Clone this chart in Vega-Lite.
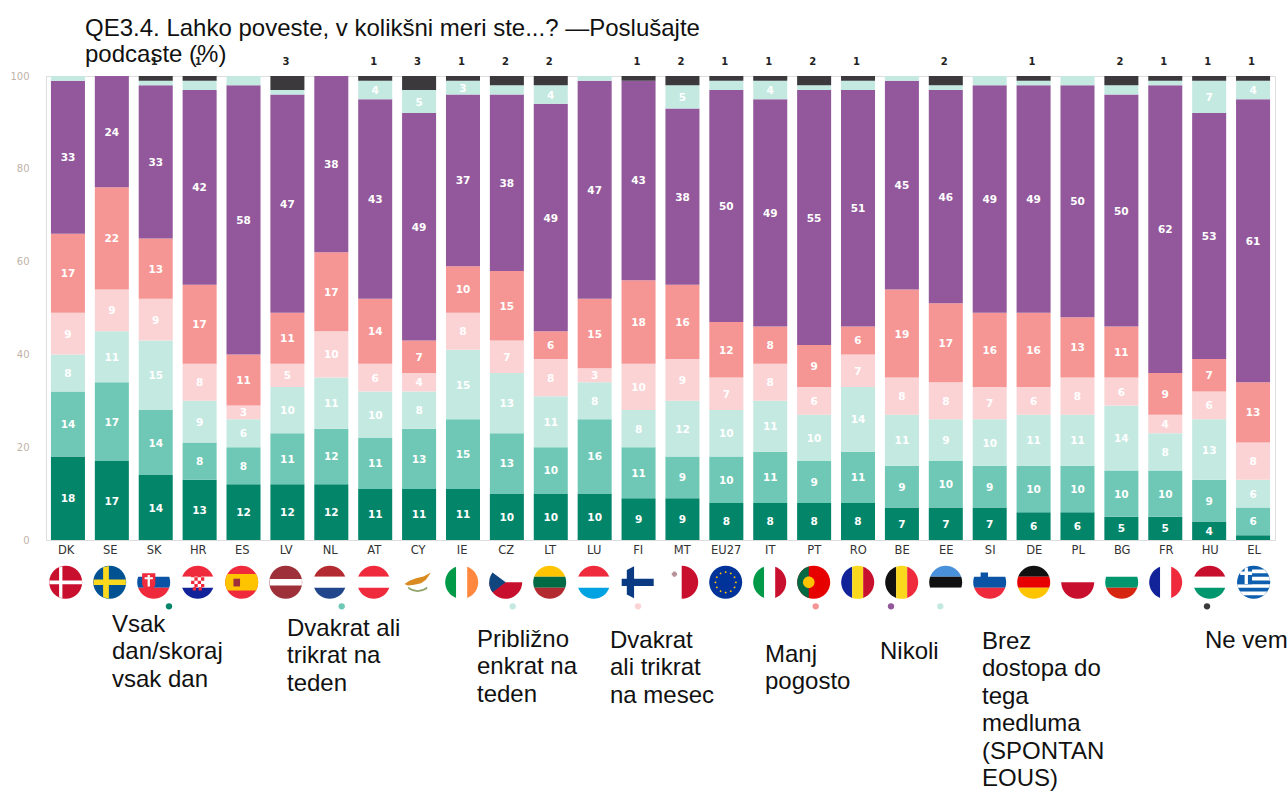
{"$schema":"https://vega.github.io/schema/vega-lite/v6.json","autosize":"none","padding":{"left":46,"top":76,"right":13,"bottom":251},"width":1229,"height":464,"background":"white","title":{"text":["QE3.4. Lahko poveste, v kolikšni meri ste...? —Poslušajte","podcaste (%)"],"anchor":"start","frame":"group","dx":39,"offset":-10,"font":"Liberation Sans","fontSize":24,"fontWeight":"normal","lineHeight":26,"color":"#111111"},"datasets":{"bars":[{"c":"DK","s":1,"v":18},{"c":"DK","s":2,"v":14},{"c":"DK","s":3,"v":8},{"c":"DK","s":4,"v":9},{"c":"DK","s":5,"v":17},{"c":"DK","s":6,"v":33},{"c":"DK","s":7,"v":1},{"c":"DK","s":8,"v":0},{"c":"SE","s":1,"v":17},{"c":"SE","s":2,"v":17},{"c":"SE","s":3,"v":11},{"c":"SE","s":4,"v":9},{"c":"SE","s":5,"v":22},{"c":"SE","s":6,"v":24},{"c":"SE","s":7,"v":0},{"c":"SE","s":8,"v":0},{"c":"SK","s":1,"v":14},{"c":"SK","s":2,"v":14},{"c":"SK","s":3,"v":15},{"c":"SK","s":4,"v":9},{"c":"SK","s":5,"v":13},{"c":"SK","s":6,"v":33},{"c":"SK","s":7,"v":1},{"c":"SK","s":8,"v":1},{"c":"HR","s":1,"v":13},{"c":"HR","s":2,"v":8},{"c":"HR","s":3,"v":9},{"c":"HR","s":4,"v":8},{"c":"HR","s":5,"v":17},{"c":"HR","s":6,"v":42},{"c":"HR","s":7,"v":2},{"c":"HR","s":8,"v":1},{"c":"ES","s":1,"v":12},{"c":"ES","s":2,"v":8},{"c":"ES","s":3,"v":6},{"c":"ES","s":4,"v":3},{"c":"ES","s":5,"v":11},{"c":"ES","s":6,"v":58},{"c":"ES","s":7,"v":2},{"c":"ES","s":8,"v":0},{"c":"LV","s":1,"v":12},{"c":"LV","s":2,"v":11},{"c":"LV","s":3,"v":10},{"c":"LV","s":4,"v":5},{"c":"LV","s":5,"v":11},{"c":"LV","s":6,"v":47},{"c":"LV","s":7,"v":1},{"c":"LV","s":8,"v":3},{"c":"NL","s":1,"v":12},{"c":"NL","s":2,"v":12},{"c":"NL","s":3,"v":11},{"c":"NL","s":4,"v":10},{"c":"NL","s":5,"v":17},{"c":"NL","s":6,"v":38},{"c":"NL","s":7,"v":0},{"c":"NL","s":8,"v":0},{"c":"AT","s":1,"v":11},{"c":"AT","s":2,"v":11},{"c":"AT","s":3,"v":10},{"c":"AT","s":4,"v":6},{"c":"AT","s":5,"v":14},{"c":"AT","s":6,"v":43},{"c":"AT","s":7,"v":4},{"c":"AT","s":8,"v":1},{"c":"CY","s":1,"v":11},{"c":"CY","s":2,"v":13},{"c":"CY","s":3,"v":8},{"c":"CY","s":4,"v":4},{"c":"CY","s":5,"v":7},{"c":"CY","s":6,"v":49},{"c":"CY","s":7,"v":5},{"c":"CY","s":8,"v":3},{"c":"IE","s":1,"v":11},{"c":"IE","s":2,"v":15},{"c":"IE","s":3,"v":15},{"c":"IE","s":4,"v":8},{"c":"IE","s":5,"v":10},{"c":"IE","s":6,"v":37},{"c":"IE","s":7,"v":3},{"c":"IE","s":8,"v":1},{"c":"CZ","s":1,"v":10},{"c":"CZ","s":2,"v":13},{"c":"CZ","s":3,"v":13},{"c":"CZ","s":4,"v":7},{"c":"CZ","s":5,"v":15},{"c":"CZ","s":6,"v":38},{"c":"CZ","s":7,"v":2},{"c":"CZ","s":8,"v":2},{"c":"LT","s":1,"v":10},{"c":"LT","s":2,"v":10},{"c":"LT","s":3,"v":11},{"c":"LT","s":4,"v":8},{"c":"LT","s":5,"v":6},{"c":"LT","s":6,"v":49},{"c":"LT","s":7,"v":4},{"c":"LT","s":8,"v":2},{"c":"LU","s":1,"v":10},{"c":"LU","s":2,"v":16},{"c":"LU","s":3,"v":8},{"c":"LU","s":4,"v":3},{"c":"LU","s":5,"v":15},{"c":"LU","s":6,"v":47},{"c":"LU","s":7,"v":1},{"c":"LU","s":8,"v":0},{"c":"FI","s":1,"v":9},{"c":"FI","s":2,"v":11},{"c":"FI","s":3,"v":8},{"c":"FI","s":4,"v":10},{"c":"FI","s":5,"v":18},{"c":"FI","s":6,"v":43},{"c":"FI","s":7,"v":0},{"c":"FI","s":8,"v":1},{"c":"MT","s":1,"v":9},{"c":"MT","s":2,"v":9},{"c":"MT","s":3,"v":12},{"c":"MT","s":4,"v":9},{"c":"MT","s":5,"v":16},{"c":"MT","s":6,"v":38},{"c":"MT","s":7,"v":5},{"c":"MT","s":8,"v":2},{"c":"EU27","s":1,"v":8},{"c":"EU27","s":2,"v":10},{"c":"EU27","s":3,"v":10},{"c":"EU27","s":4,"v":7},{"c":"EU27","s":5,"v":12},{"c":"EU27","s":6,"v":50},{"c":"EU27","s":7,"v":2},{"c":"EU27","s":8,"v":1},{"c":"IT","s":1,"v":8},{"c":"IT","s":2,"v":11},{"c":"IT","s":3,"v":11},{"c":"IT","s":4,"v":8},{"c":"IT","s":5,"v":8},{"c":"IT","s":6,"v":49},{"c":"IT","s":7,"v":4},{"c":"IT","s":8,"v":1},{"c":"PT","s":1,"v":8},{"c":"PT","s":2,"v":9},{"c":"PT","s":3,"v":10},{"c":"PT","s":4,"v":6},{"c":"PT","s":5,"v":9},{"c":"PT","s":6,"v":55},{"c":"PT","s":7,"v":1},{"c":"PT","s":8,"v":2},{"c":"RO","s":1,"v":8},{"c":"RO","s":2,"v":11},{"c":"RO","s":3,"v":14},{"c":"RO","s":4,"v":7},{"c":"RO","s":5,"v":6},{"c":"RO","s":6,"v":51},{"c":"RO","s":7,"v":2},{"c":"RO","s":8,"v":1},{"c":"BE","s":1,"v":7},{"c":"BE","s":2,"v":9},{"c":"BE","s":3,"v":11},{"c":"BE","s":4,"v":8},{"c":"BE","s":5,"v":19},{"c":"BE","s":6,"v":45},{"c":"BE","s":7,"v":1},{"c":"BE","s":8,"v":0},{"c":"EE","s":1,"v":7},{"c":"EE","s":2,"v":10},{"c":"EE","s":3,"v":9},{"c":"EE","s":4,"v":8},{"c":"EE","s":5,"v":17},{"c":"EE","s":6,"v":46},{"c":"EE","s":7,"v":1},{"c":"EE","s":8,"v":2},{"c":"SI","s":1,"v":7},{"c":"SI","s":2,"v":9},{"c":"SI","s":3,"v":10},{"c":"SI","s":4,"v":7},{"c":"SI","s":5,"v":16},{"c":"SI","s":6,"v":49},{"c":"SI","s":7,"v":2},{"c":"SI","s":8,"v":0},{"c":"DE","s":1,"v":6},{"c":"DE","s":2,"v":10},{"c":"DE","s":3,"v":11},{"c":"DE","s":4,"v":6},{"c":"DE","s":5,"v":16},{"c":"DE","s":6,"v":49},{"c":"DE","s":7,"v":1},{"c":"DE","s":8,"v":1},{"c":"PL","s":1,"v":6},{"c":"PL","s":2,"v":10},{"c":"PL","s":3,"v":11},{"c":"PL","s":4,"v":8},{"c":"PL","s":5,"v":13},{"c":"PL","s":6,"v":50},{"c":"PL","s":7,"v":2},{"c":"PL","s":8,"v":0},{"c":"BG","s":1,"v":5},{"c":"BG","s":2,"v":10},{"c":"BG","s":3,"v":14},{"c":"BG","s":4,"v":6},{"c":"BG","s":5,"v":11},{"c":"BG","s":6,"v":50},{"c":"BG","s":7,"v":2},{"c":"BG","s":8,"v":2},{"c":"FR","s":1,"v":5},{"c":"FR","s":2,"v":10},{"c":"FR","s":3,"v":8},{"c":"FR","s":4,"v":4},{"c":"FR","s":5,"v":9},{"c":"FR","s":6,"v":62},{"c":"FR","s":7,"v":1},{"c":"FR","s":8,"v":1},{"c":"HU","s":1,"v":4},{"c":"HU","s":2,"v":9},{"c":"HU","s":3,"v":13},{"c":"HU","s":4,"v":6},{"c":"HU","s":5,"v":7},{"c":"HU","s":6,"v":53},{"c":"HU","s":7,"v":7},{"c":"HU","s":8,"v":1},{"c":"EL","s":1,"v":1},{"c":"EL","s":2,"v":6},{"c":"EL","s":3,"v":6},{"c":"EL","s":4,"v":8},{"c":"EL","s":5,"v":13},{"c":"EL","s":6,"v":61},{"c":"EL","s":7,"v":4},{"c":"EL","s":8,"v":1}],"legend":[{"s":1,"label":"Vsak\ndan/skoraj\nvsak dan"},{"s":2,"label":"Dvakrat ali\ntrikrat na\nteden"},{"s":3,"label":"Približno\nenkrat na\nteden"},{"s":4,"label":"Dvakrat\nali trikrat\nna mesec"},{"s":5,"label":"Manj\npogosto"},{"s":6,"label":"Nikoli"},{"s":7,"label":"Brez\ndostopa do\ntega\nmedluma\n(SPONTAN\nEOUS)"},{"s":8,"label":"Ne vem"}],"flags":[{"c":"DK","p":"disc","t":"crimson"},{"c":"DK","p":"crossH","t":"white"},{"c":"DK","p":"crossV","t":"white"},{"c":"SE","p":"disc","t":"seblue"},{"c":"SE","p":"crossHwide","t":"yellow"},{"c":"SE","p":"crossVwide","t":"yellow"},{"c":"SK","p":"top","t":"white"},{"c":"SK","p":"mid","t":"blue"},{"c":"SK","p":"bot","t":"red"},{"c":"SK","p":"shield","t":"red"},{"c":"SK","p":"shieldCross","t":"white"},{"c":"HR","p":"top","t":"red"},{"c":"HR","p":"mid","t":"white"},{"c":"HR","p":"bot","t":"navy"},{"c":"HR","p":"checker","t":"red"},{"c":"ES","p":"disc","t":"red"},{"c":"ES","p":"wideBand","t":"gold"},{"c":"ES","p":"emblem","t":"maroon"},{"c":"LV","p":"disc","t":"maroon"},{"c":"LV","p":"thinBand","t":"white"},{"c":"NL","p":"top","t":"brick"},{"c":"NL","p":"mid","t":"white"},{"c":"NL","p":"bot","t":"nlblue"},{"c":"AT","p":"top","t":"red"},{"c":"AT","p":"mid","t":"white"},{"c":"AT","p":"bot","t":"red"},{"c":"CY","p":"island","t":"copper"},{"c":"CY","p":"olive","t":"olive"},{"c":"IE","p":"left","t":"green"},{"c":"IE","p":"centre","t":"white"},{"c":"IE","p":"right","t":"orange"},{"c":"CZ","p":"lower","t":"crimson"},{"c":"CZ","p":"triangle","t":"czblue"},{"c":"LT","p":"top","t":"gold"},{"c":"LT","p":"mid","t":"darkgreen"},{"c":"LT","p":"bot","t":"brick"},{"c":"LU","p":"top","t":"red"},{"c":"LU","p":"mid","t":"white"},{"c":"LU","p":"bot","t":"sky"},{"c":"FI","p":"nordicH","t":"fiblue"},{"c":"FI","p":"nordicV","t":"fiblue"},{"c":"MT","p":"halfRight","t":"crimson"},{"c":"MT","p":"mtCross","t":"grey"},{"c":"EU27","p":"disc","t":"eublue"},{"c":"EU27","p":"stars","t":"gold"},{"c":"IT","p":"left","t":"green"},{"c":"IT","p":"centre","t":"white"},{"c":"IT","p":"right","t":"crimson"},{"c":"PT","p":"disc","t":"scarlet"},{"c":"PT","p":"ptLeft","t":"darkgreen"},{"c":"PT","p":"ptEmblem","t":"gold"},{"c":"RO","p":"left","t":"navy"},{"c":"RO","p":"centre","t":"yellow"},{"c":"RO","p":"right","t":"crimson"},{"c":"BE","p":"left","t":"black"},{"c":"BE","p":"centre","t":"yellow"},{"c":"BE","p":"right","t":"red"},{"c":"EE","p":"top","t":"eeblue"},{"c":"EE","p":"mid","t":"black"},{"c":"EE","p":"bot","t":"white"},{"c":"SI","p":"top","t":"white"},{"c":"SI","p":"mid","t":"blue"},{"c":"SI","p":"bot","t":"red"},{"c":"SI","p":"siEmblem","t":"blue"},{"c":"DE","p":"top","t":"black"},{"c":"DE","p":"mid","t":"scarlet"},{"c":"DE","p":"bot","t":"gold"},{"c":"PL","p":"lower","t":"crimson"},{"c":"BG","p":"top","t":"white"},{"c":"BG","p":"mid","t":"bggreen"},{"c":"BG","p":"bot","t":"bgred"},{"c":"FR","p":"left","t":"navy"},{"c":"FR","p":"centre","t":"white"},{"c":"FR","p":"right","t":"red"},{"c":"HU","p":"top","t":"crimson"},{"c":"HU","p":"mid","t":"white"},{"c":"HU","p":"bot","t":"bggreen"},{"c":"EL","p":"disc","t":"elblue"},{"c":"EL","p":"elStripes","t":"white"},{"c":"EL","p":"elCanton","t":"elblue"},{"c":"EL","p":"elCross","t":"white"}]},"resolve":{"scale":{"x":"independent","y":"independent","color":"independent","shape":"independent"}},"layer":[{"data":{"name":"bars"},"mark":{"type":"bar"},"encoding":{"x":{"field":"c","type":"nominal","sort":null,"scale":{"paddingInner":0.225,"paddingOuter":0.1125},"axis":null},"y":{"field":"v","type":"quantitative","stack":"zero","scale":{"domain":[0,100],"nice":false},"axis":{"values":[0,20,40,60,80,100],"domain":false,"ticks":false,"grid":false,"title":null,"labelPadding":17,"labelColor":"#BFB3A8","labelFont":"DejaVu Sans","labelFontSize":10}},"order":{"field":"s","type":"quantitative"},"color":{"field":"s","type":"ordinal","scale":{"domain":[1,2,3,4,5,6,7,8],"range":["#03856A","#6EC8B5","#C4E9E1","#FBD3D5","#F69694","#93589B","#C4E9E1","#3B393C"]},"legend":null}}},{"data":{"name":"bars"},"mark":{"type":"text","font":"DejaVu Sans","fontWeight":"bold","fontSize":10.5,"color":"white","baseline":"middle","dy":1},"encoding":{"x":{"field":"c","type":"nominal","sort":null,"scale":{"paddingInner":0.225,"paddingOuter":0.1125},"axis":null},"y":{"field":"v","type":"quantitative","stack":"zero","bandPosition":0.5,"scale":{"domain":[0,100],"nice":false},"axis":null},"order":{"field":"s","type":"quantitative"},"detail":{"field":"s","type":"ordinal"},"text":{"condition":{"test":"datum.v>=3 && datum.s<8","field":"v","type":"quantitative"},"value":""}}},{"data":{"name":"bars"},"transform":[{"filter":"datum.s==8 && datum.v>=1"}],"mark":{"type":"text","font":"DejaVu Sans","fontWeight":"bold","fontSize":10,"color":"#222222","baseline":"middle","dx":-1.5},"encoding":{"x":{"field":"c","type":"nominal","sort":null,"scale":{"paddingInner":0.225,"paddingOuter":0.1125,"domain":["DK","SE","SK","HR","ES","LV","NL","AT","CY","IE","CZ","LT","LU","FI","MT","EU27","IT","PT","RO","BE","EE","SI","DE","PL","BG","FR","HU","EL"]},"axis":null},"y":{"datum":103.1,"type":"quantitative","scale":{"domain":[0,100],"nice":false},"axis":null},"text":{"field":"v","type":"quantitative"}}},{"data":{"name":"flags"},"mark":{"type":"point","filled":true,"opacity":1,"size":1089,"strokeWidth":0},"encoding":{"x":{"field":"c","type":"nominal","sort":null,"scale":{"range":[-2.3,1229.7],"paddingInner":0,"paddingOuter":0,"domain":["DK","SE","SK","HR","ES","LV","NL","AT","CY","IE","CZ","LT","LU","FI","MT","EU27","IT","PT","RO","BE","EE","SI","DE","PL","BG","FR","HU","EL"]},"axis":{"title":null,"domain":false,"ticks":false,"grid":false,"labelAngle":0,"labelPadding":4,"labelColor":"#333333","labelFont":"DejaVu Sans","labelFontSize":11.5}},"y":{"datum":-9.12,"type":"quantitative","scale":{"domain":[0,100],"nice":false},"axis":null},"shape":{"field":"p","type":"nominal","legend":null,"scale":{"domain":["disc","top","mid","bot","left","centre","right","lower","halfRight","crossH","crossV","crossHwide","crossVwide","nordicH","nordicV","wideBand","thinBand","shield","shieldCross","checker","emblem","island","olive","triangle","mtCross","stars","ptLeft","ptEmblem","siEmblem","elStripes","elCanton","elCross"],"range":["M-1,0 A1,1 0 1 1 1,0 A1,1 0 1 1 -1,0 Z","M-0.943,-0.333 A1,1 0 0 1 0.943,-0.333 Z","M-0.943,-0.333 L0.943,-0.333 A1,1 0 0 1 0.943,0.333 L-0.943,0.333 A1,1 0 0 1 -0.943,-0.333 Z","M0.943,0.333 A1,1 0 0 1 -0.943,0.333 Z","M-0.333,-0.943 L-0.333,0.943 A1,1 0 0 1 -0.333,-0.943 Z","M-0.333,-0.943 A1,1 0 0 1 0.333,-0.943 L0.333,0.943 A1,1 0 0 1 -0.333,0.943 Z","M0.333,-0.943 A1,1 0 0 1 0.333,0.943 Z","M-1,0 L1,0 A1,1 0 0 1 -1,0 Z","M0,-1 A1,1 0 0 1 0,1 Z","M-0.99,-0.11 L0.99,-0.11 L0.99,0.11 L-0.99,0.11 Z","M-0.4,-0.91 L-0.2,-0.97 L-0.2,0.97 L-0.4,0.91 Z","M-0.98,-0.17 L0.98,-0.17 L0.98,0.17 L-0.98,0.17 Z","M-0.4,-0.91 L-0.05,-0.99 L-0.05,0.99 L-0.4,0.91 Z","M-0.97,-0.22 L0.97,-0.22 L0.97,0.22 L-0.97,0.22 Z","M-0.66,-0.74 L-0.22,-0.97 L-0.22,0.97 L-0.66,0.74 Z","M-0.866,-0.5 L0.866,-0.5 A1,1 0 0 1 0.866,0.5 L-0.866,0.5 A1,1 0 0 1 -0.866,-0.5 Z","M-0.98,-0.2 L0.98,-0.2 L0.98,0.2 L-0.98,0.2 Z","M-0.7,-0.55 L0.1,-0.55 L0.1,0.1 Q0.05,0.4 -0.3,0.55 Q-0.65,0.4 -0.7,0.1 Z","M-0.37,-0.45 L-0.23,-0.45 L-0.23,-0.3 L-0.05,-0.3 L-0.05,-0.18 L-0.23,-0.18 L-0.23,0.25 L-0.37,0.25 L-0.37,-0.18 L-0.55,-0.18 L-0.55,-0.3 L-0.37,-0.3 Z","M-0.4,-0.5 L-0.2,-0.5 L-0.2,-0.3 L-0.4,-0.3 Z M0,-0.5 L0.2,-0.5 L0.2,-0.3 L0,-0.3 Z M-0.2,-0.3 L0,-0.3 L0,-0.1 L-0.2,-0.1 Z M0.2,-0.3 L0.4,-0.3 L0.4,-0.1 L0.2,-0.1 Z M-0.4,-0.1 L-0.2,-0.1 L-0.2,0.1 L-0.4,0.1 Z M0,-0.1 L0.2,-0.1 L0.2,0.1 L0,0.1 Z M-0.2,0.1 L0,0.1 L0,0.3 L-0.2,0.3 Z M0.2,0.1 L0.4,0.1 L0.4,0.3 L0.2,0.3 Z M-0.3,0.3 L-0.1,0.3 L-0.1,0.5 L-0.3,0.5 Z M0.05,0.3 L0.25,0.3 L0.25,0.5 L0.05,0.5 Z","M-0.5,-0.22 L-0.1,-0.22 L-0.1,0.25 L-0.5,0.25 Z","M-0.8,0.1 L-0.5,-0.1 L-0.1,-0.25 L0.35,-0.35 L0.8,-0.6 L0.5,-0.15 L0.2,0.05 L-0.2,0.15 L-0.6,0.2 Z","M-0.6,0.25 Q0,0.7 0.6,0.25 L0.55,0.42 Q0,0.75 -0.55,0.42 Z","M-0.8,-0.6 L0,0 L-0.8,0.6 A1,1 0 0 1 -0.8,-0.6 Z","M-0.52,-0.66 L-0.36,-0.66 L-0.36,-0.58 L-0.28,-0.58 L-0.28,-0.42 L-0.36,-0.42 L-0.36,-0.34 L-0.52,-0.34 L-0.52,-0.42 L-0.6,-0.42 L-0.6,-0.58 L-0.52,-0.58 Z","M0,-0.69 L0.07,-0.62 L0,-0.55 L-0.07,-0.62 Z M0.31,-0.607 L0.38,-0.537 L0.31,-0.467 L0.24,-0.537 Z M0.537,-0.38 L0.607,-0.31 L0.537,-0.24 L0.467,-0.31 Z M0.62,-0.07 L0.69,0 L0.62,0.07 L0.55,0 Z M0.537,0.24 L0.607,0.31 L0.537,0.38 L0.467,0.31 Z M0.31,0.467 L0.38,0.537 L0.31,0.607 L0.24,0.537 Z M0,0.55 L0.07,0.62 L0,0.69 L-0.07,0.62 Z M-0.31,0.467 L-0.24,0.537 L-0.31,0.607 L-0.38,0.537 Z M-0.537,0.24 L-0.467,0.31 L-0.537,0.38 L-0.607,0.31 Z M-0.62,-0.07 L-0.55,0 L-0.62,0.07 L-0.69,0 Z M-0.537,-0.38 L-0.467,-0.31 L-0.537,-0.24 L-0.607,-0.31 Z M-0.31,-0.607 L-0.24,-0.537 L-0.31,-0.467 L-0.38,-0.537 Z","M-0.3,-0.954 L-0.3,0.954 A1,1 0 0 1 -0.3,-0.954 Z","M-0.65,0 A0.35,0.35 0 1 1 0.05,0 A0.35,0.35 0 1 1 -0.65,0 Z","M-0.55,-0.6 L-0.1,-0.6 L-0.1,-0.3 L-0.33,-0.12 L-0.55,-0.3 Z","M-0.63,-0.778 L0.63,-0.778 L0.83,-0.556 L-0.83,-0.556 Z M-0.94,-0.333 L0.94,-0.333 L0.99,-0.111 L-0.99,-0.111 Z M-0.99,0.111 L0.99,0.111 L0.94,0.333 L-0.94,0.333 Z M-0.83,0.556 L0.83,0.556 L0.63,0.778 L-0.63,0.778 Z","M-0.1,0.111 L-0.99,0.111 A1,1 0 0 1 -0.1,-0.995 Z","M-0.82,-0.66 L-0.1,-0.66 L-0.1,-0.45 L-0.82,-0.45 Z M-0.55,-0.9 L-0.35,-0.9 L-0.35,0.1 L-0.55,0.1 Z"]}},"color":{"field":"t","type":"nominal","legend":null,"scale":{"domain":["white","black","red","crimson","scarlet","maroon","brick","blue","navy","seblue","nlblue","czblue","fiblue","eublue","elblue","eeblue","sky","yellow","gold","green","darkgreen","bggreen","bgred","orange","copper","olive","grey"],"range":["#FFFFFF","#111111","#EE2A3C","#C8102E","#E60000","#9E3039","#B32B30","#0B54A5","#12239A","#005293","#21468B","#11457E","#0A3A82","#003399","#0D5EAF","#4A91DC","#00A2E1","#FAD81E","#FFC400","#009A49","#006A44","#00966E","#D62612","#FF883E","#D98A20","#8FA36A","#B89098"]}}}},{"data":{"name":"legend"},"mark":{"type":"point","filled":true,"opacity":1,"size":40,"strokeWidth":0},"encoding":{"x":{"field":"s","type":"quantitative","axis":null,"scale":{"domain":[1,2,3,4,5,6,7,8],"range":[123,295.7,466.7,592,769.7,845,894.3,1161]}},"y":{"datum":-14.3,"type":"quantitative","scale":{"domain":[0,100],"nice":false},"axis":null},"color":{"field":"s","type":"ordinal","legend":null,"scale":{"domain":[1,2,3,4,5,6,7,8],"range":["#03856A","#6EC8B5","#C4E9E1","#FBD3D5","#F69694","#93589B","#C4E9E1","#3B393C"]}}}},{"data":{"name":"legend"},"mark":{"type":"text","font":"Liberation Sans","fontSize":24,"lineBreak":"\n","lineHeight":27.5,"align":"left","baseline":"top","color":"#111111"},"encoding":{"x":{"field":"s","type":"quantitative","axis":null,"scale":{"domain":[1,2,3,4,5,6,7,8],"range":[66,241,431,564,719,834,936,1159]}},"y":{"field":"s","type":"quantitative","axis":null,"scale":{"domain":[1,2,3,4,5,6,7,8],"range":[536.5,540.5,551.5,552.5,566.5,563.5,553.5,552.5]}},"text":{"field":"label","type":"nominal"}}}]}
